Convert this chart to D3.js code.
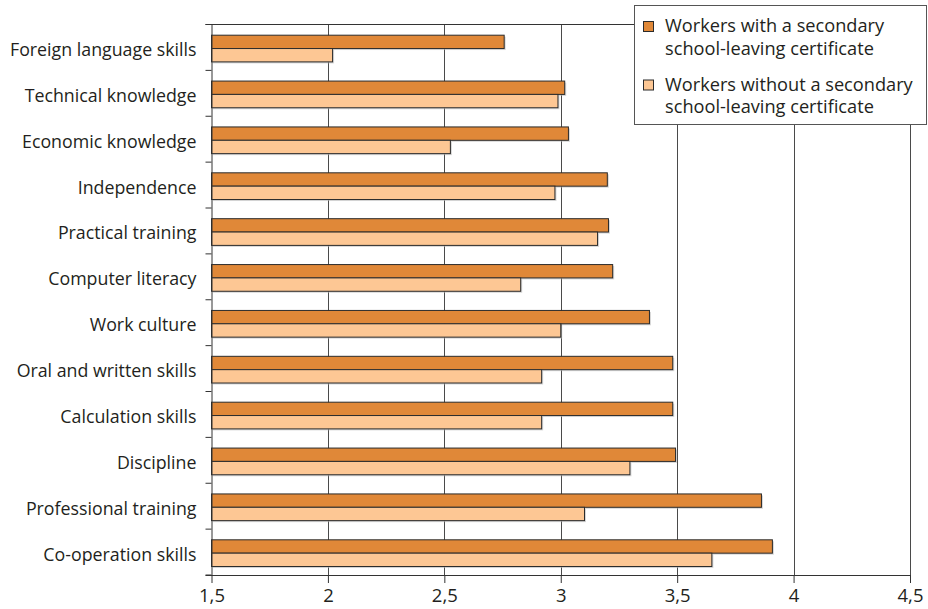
<!DOCTYPE html>
<html>
<head>
<meta charset="utf-8">
<script src="https://cdn.jsdelivr.net/npm/d3@7"></script>
<style>
  html, body { margin: 0; padding: 0; background: #fff; }
  svg { display: block; }
  text { font-family: "Open Sans", Lato, sans-serif; fill: #231f20; }
</style>
</head>
<body>
<svg id="chart" width="928" height="609"></svg>
<script>
const categories = [
  "Foreign language skills", "Technical knowledge", "Economic knowledge",
  "Independence", "Practical training", "Computer literacy", "Work culture",
  "Oral and written skills", "Calculation skills", "Discipline",
  "Professional training", "Co-operation skills"
];
const withCertificate = [2.757, 3.017, 3.033, 3.20, 3.205, 3.223, 3.381, 3.481, 3.481, 3.493, 3.862, 3.909];
const withoutCertificate = [2.02, 2.988, 2.526, 2.975, 3.158, 2.828, 3.0, 2.918, 2.918, 3.297, 3.102, 3.649];
const seriesNames = ["Workers with a secondary school-leaving certificate", "Workers without a secondary school-leaving certificate"];
const legendLines = [
  ["Workers with a secondary", "school-leaving certificate"],
  ["Workers without a secondary", "school-leaving certificate"]
];
const tickValues = [1.5, 2, 2.5, 3, 3.5, 4, 4.5];
const colors = ["#e08838", "#fdc794"];

const svg = d3.select("#chart");
const mLeft = 211.5, mRight = 910, mTop = 24.5, mBottom = 575;

const x = d3.scaleLinear().domain([1.5, 4.5]).range([mLeft, mRight]);
const y = d3.scaleBand().domain(categories).range([mTop, mBottom]);
const sub = d3.scaleBand().domain(seriesNames).range([y.bandwidth() * 0.233, y.bandwidth() * 0.815]);

// gridlines
svg.append("g").selectAll("line").data(tickValues.slice(1)).join("line")
  .attr("x1", d => Math.round(x(d)) + 0.5).attr("x2", d => Math.round(x(d)) + 0.5)
  .attr("y1", mTop).attr("y2", mBottom)
  .attr("stroke", "#4a4a4a").attr("stroke-width", 1);

// top frame line
svg.append("line").attr("x1", mLeft - 6).attr("x2", mRight)
  .attr("y1", mTop).attr("y2", mTop).attr("stroke", "#333").attr("stroke-width", 1);

// bars
const data = categories.map((c, i) => ({ c, vals: [withCertificate[i], withoutCertificate[i]] }));
const groups = svg.append("g").selectAll("g").data(data).join("g")
  .attr("transform", d => `translate(0,${y(d.c)})`);
groups.selectAll("rect.shadow").data(d => d.vals.map((v, k) => ({ v, k }))).join("rect")
  .attr("class", "shadow")
  .attr("x", x(1.5) + 1.5).attr("y", d => sub(seriesNames[d.k]) + 1.5)
  .attr("width", d => x(d.v) - x(1.5)).attr("height", sub.bandwidth())
  .attr("fill", "#bbb").attr("opacity", 0.6);
groups.selectAll("rect.bar").data(d => d.vals.map((v, k) => ({ v, k }))).join("rect")
  .attr("class", "bar")
  .attr("x", x(1.5)).attr("y", d => sub(seriesNames[d.k]))
  .attr("width", d => x(d.v) - x(1.5)).attr("height", sub.bandwidth())
  .attr("fill", d => colors[d.k]).attr("stroke", "#2b2b2b").attr("stroke-width", 1);

// left axis (labels)
const yAxis = svg.append("g").attr("transform", `translate(${mLeft},0)`)
  .call(d3.axisLeft(y).tickSize(0).tickPadding(15));
yAxis.select(".domain").attr("stroke", "#333");
yAxis.selectAll("text").attr("font-size", 17.8).attr("dy", "8.5px");
// boundary ticks
svg.append("g").selectAll("line").data(d3.range(categories.length + 1)).join("line")
  .attr("x1", mLeft - 6).attr("x2", mLeft)
  .attr("y1", i => mTop + i * y.step()).attr("y2", i => mTop + i * y.step())
  .attr("stroke", "#333");

// bottom axis
const xAxis = svg.append("g").attr("transform", `translate(0,${mBottom})`)
  .call(d3.axisBottom(x).tickValues(tickValues).tickSize(8).tickPadding(6)
    .tickFormat(d => String(d).replace(".", ",")));
xAxis.select(".domain").attr("d", `M${mLeft - 6},0.5H${mRight}`).attr("stroke", "#333");
xAxis.selectAll(".tick line").attr("stroke", "#333");
xAxis.selectAll("text").attr("font-size", 18.5);

// legend
const lg = svg.append("g");
lg.append("rect").attr("x", 634.5).attr("y", 5.5).attr("width", 292).attr("height", 119)
  .attr("fill", "#fff").attr("stroke", "#555");
legendLines.forEach((lines, k) => {
  const y0 = 21 + k * 58.5;
  lg.append("rect").attr("x", 643.5).attr("y", y0 + 0.5).attr("width", 10).attr("height", 10)
    .attr("fill", colors[k]).attr("stroke", "#2b2b2b");
  lines.forEach((t, j) => {
    lg.append("text").attr("x", 665).attr("y", y0 + 11 + j * 22.5)
      .attr("font-size", 18.2).text(t);
  });
});
</script>
</body>
</html>
